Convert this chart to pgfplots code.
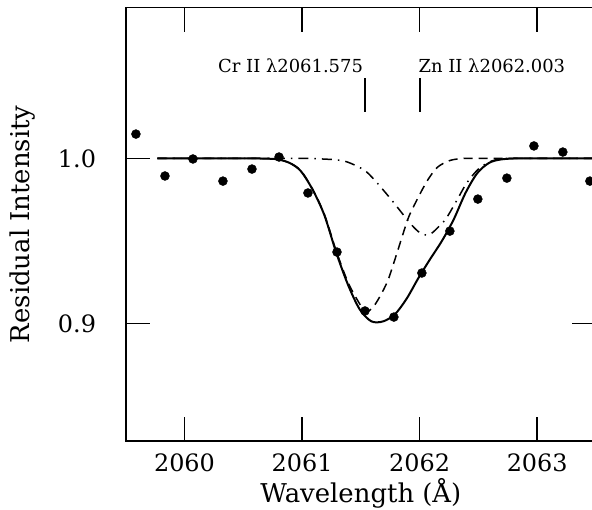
\documentclass[border=0pt]{standalone}
\usepackage{fontspec}
\setmainfont{DejaVu Serif}
\usepackage{pgfplots}
\pgfplotsset{compat=1.18}
\begin{document}
\begin{tikzpicture}
\path[use as bounding box, clip] (-125.7bp,-69bp) rectangle (466.3bp,441bp);
\begin{axis}[
  at={(0,0)}, anchor=south west,
  scale only axis, width=470.3bp, height=433.5bp,
  xmin=2059.5, xmax=2063.5, ymin=0.8287, ymax=1.0914,
  xtick={2060,2061,2062,2063}, ytick={0.9,1.0},
  scaled x ticks=false, scaled y ticks=false,
  minor tick num=0,
  tick align=inside, major tick length=24bp,
  tick style={line width=1.5bp, black},
  axis line style={line width=1.8bp},
  /pgf/number format/assume math mode=true,
  xticklabel style={/pgf/number format/1000 sep={}, font=\fontsize{24}{24}\selectfont, anchor=north, inner sep=0pt, yshift=-13bp},
  yticklabel style={/pgf/number format/.cd, fixed, fixed zerofill, precision=1, /tikz/.cd, font=\fontsize{24}{24}\selectfont, anchor=east, inner sep=0pt, xshift=-29.5bp},
  xlabel={Wavelength (Å)},
  ylabel={Residual Intensity},
  xlabel style={font=\fontsize{26}{26}\selectfont, at={(axis description cs:0.5,-0.142)}, anchor=base, inner sep=0pt},
  ylabel style={font=\fontsize{26}{26}\selectfont, at={(axis description cs:-0.2035,0.5)}, anchor=base, inner sep=0pt},
  clip=false,
]
% Zn II component (dash-dot)
\addplot[black, line width=1.5bp, smooth, tension=0.5, dash pattern=on 10bp off 6bp on 1.5bp off 6bp] table {
2059.77 1.0
2060.5 1.0
2061.0 1.0
2061.2 0.9995
2061.30 0.9990
2061.375 0.9980
2061.46 0.9955
2061.545 0.9920
2061.64 0.9850
2061.77 0.9740
2061.87 0.9650
2061.94 0.9590
2062.00 0.9550
2062.055 0.9535
2062.10 0.9545
2062.154 0.9580
2062.225 0.9635
2062.32 0.9750
2062.40 0.9850
2062.50 0.9935
2062.60 0.9980
2062.70 0.9997
2062.85 1.0
2063.5 1.0
};
% Cr II component (dashed)
\addplot[black, line width=1.5bp, smooth, tension=0.5, dash pattern=on 9bp off 6bp] table {
2059.77 1.0
2060.2 1.0
2060.5 1.0
2060.7 0.9998
2060.8 0.9993
2060.9 0.9970
2060.99 0.9925
2061.09 0.9812
2061.19 0.9660
2061.29 0.9440
2061.39 0.9250
2061.48 0.9130
2061.54 0.9070
2061.60 0.9095
2061.66 0.9160
2061.73 0.9260
2061.80 0.9410
2061.86 0.9545
2061.91 0.9650
2062.00 0.9780
2062.07 0.9870
2062.15 0.9945
2062.25 0.9985
2062.35 0.9998
2062.5 1.0
2063.0 1.0
2063.5 1.0
};
% total fit (solid)
\addplot[black, line width=2bp, smooth, tension=0.5] table {
2059.77 1.0
2060.2 1.0
2060.5 1.0
2060.7 0.9998
2060.8 0.9993
2060.9 0.9970
2060.99 0.9922
2061.09 0.9810
2061.19 0.9655
2061.29 0.9430
2061.39 0.9235
2061.49 0.9085
2061.59 0.9012
2061.69 0.9012
2061.79 0.9055
2061.89 0.9150
2061.99 0.9275
2062.09 0.9390
2062.19 0.9500
2062.29 0.9630
2062.39 0.9790
2062.49 0.9910
2062.59 0.9972
2062.69 0.9993
2062.85 1.0
2063.2 1.0
2063.5 1.0
};
% data
\addplot[only marks, mark=*, mark size=4.5bp, black] table {
2059.587 1.0147
2059.834 0.9893
2060.072 0.9996
2060.327 0.9862
2060.574 0.9935
2060.804 1.0008
2061.050 0.9790
2061.297 0.9432
2061.535 0.9075
2061.781 0.9038
2062.019 0.9305
2062.257 0.9559
2062.495 0.9753
2062.742 0.9880
2062.972 1.0075
2063.218 1.0038
2063.448 0.9862
};
% line identification marks
\draw[line width=1.5bp] (axis cs:2061.535,1.0281) -- (axis cs:2061.535,1.0487);
\draw[line width=1.5bp] (axis cs:2062.003,1.0281) -- (axis cs:2062.003,1.0487);
\node[anchor=base east, inner sep=0pt, font=\fontsize{18}{18}\selectfont] at (axis cs:2061.52,1.0519) {Cr II λ2061.575};
\node[anchor=base west, inner sep=0pt, font=\fontsize{18}{18}\selectfont] at (axis cs:2061.99,1.0519) {Zn II λ2062.003};
\end{axis}
\end{tikzpicture}
\end{document}
